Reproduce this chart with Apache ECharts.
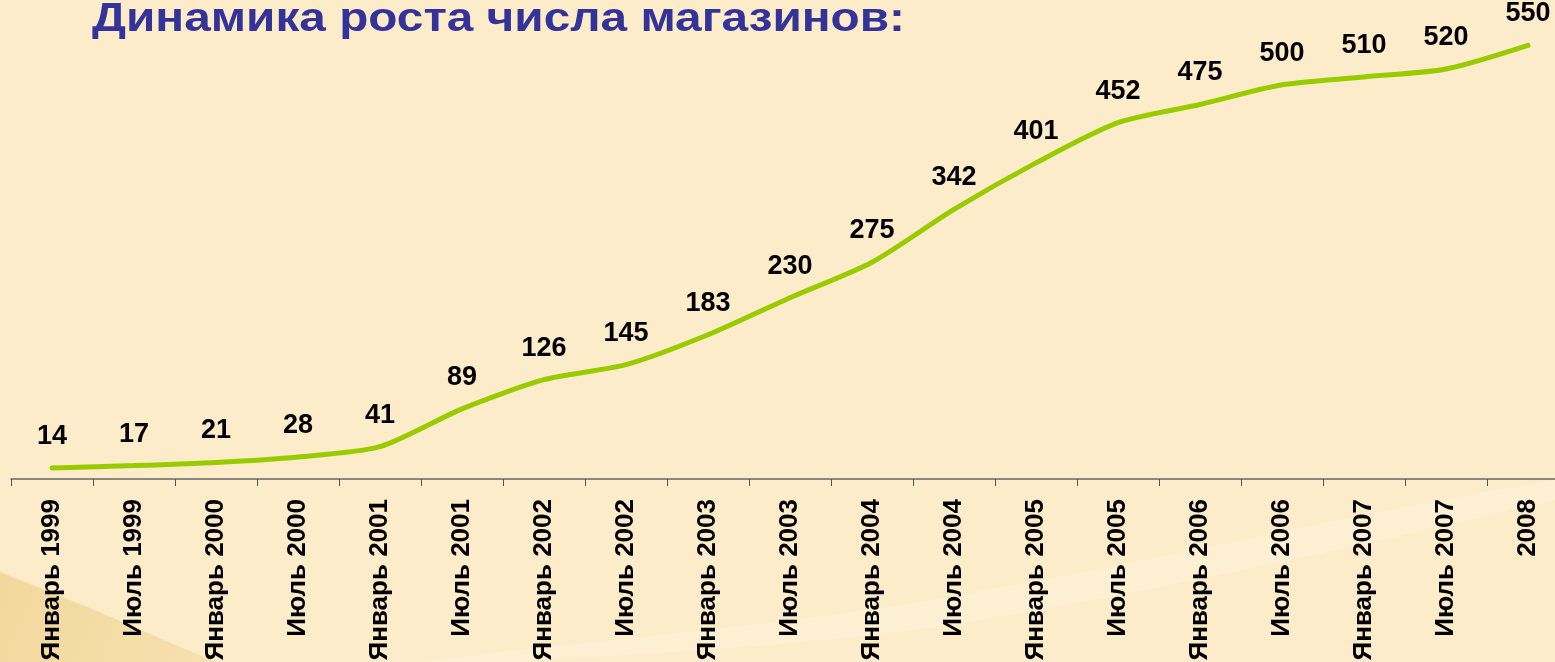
<!DOCTYPE html>
<html lang="ru">
<head>
    <meta charset="utf-8">
    <title>Динамика роста числа магазинов</title>
    <script src="https://cdn.jsdelivr.net/npm/echarts@6/dist/echarts.min.js"></script>
    <style>
        html, body { margin: 0; padding: 0; background: #fdecca; }
        #main { width: 1555px; height: 662px; }
    </style>
</head>
<body>
<div id="main"></div>
<script type="text/javascript">
    // данные
    const titleText = 'Динамика роста числа магазинов:';
    const periods = ['Январь 1999', 'Июль 1999', 'Январь 2000', 'Июль 2000', 'Январь 2001', 'Июль 2001',
        'Январь 2002', 'Июль 2002', 'Январь 2003', 'Июль 2003', 'Январь 2004', 'Июль 2004',
        'Январь 2005', 'Июль 2005', 'Январь 2006', 'Июль 2006', 'Январь 2007', 'Июль 2007', '2008'];
    const shops = [14, 17, 21, 28, 41, 89, 126, 145, 183, 230, 275, 342, 401, 452, 475, 500, 510, 520, 550];

    const font = '"Liberation Sans", Arial, sans-serif';

    // заголовок в оригинале растянут по ширине - подгоняем через scaleX
    const titleFont = 'bold 40px ' + font;
    const ctx = document.createElement('canvas').getContext('2d');
    ctx.font = titleFont;
    const titleScale = 813 / ctx.measureText(titleText).width;

    const myChart = echarts.init(document.getElementById('main'));
    const option = {
        backgroundColor: '#fdecca',
        animation: false,
        graphic: [
            {   // тёмный клин снизу слева
                type: 'polygon', z: -10, silent: true,
                shape: { points: [[0, 572], [90, 608], [215, 662], [0, 662]] },
                style: {
                    fill: new echarts.graphic.LinearGradient(0, 0, 1, 1, [
                        { offset: 0, color: '#f3d89c' },
                        { offset: 1, color: '#f6e0ae' }
                    ])
                }
            },
            {   // светлая полоса
                type: 'polygon', z: -10, silent: true,
                shape: { points: [[420, 662], [900, 605], [1555, 480], [1555, 500], [950, 625], [520, 662]], smooth: 0.3 },
                style: { fill: 'rgba(255,250,235,0.22)' }
            },
            {
                type: 'text', x: 92, y: 0, scaleX: titleScale,
                style: {
                    text: titleText, font: titleFont, fill: '#333399',
                    textAlign: 'left', textVerticalAlign: 'top'
                }
            }
        ],
        grid: { left: 11, top: 6, bottom: 183, width: 82 * periods.length, outerBoundsMode: 'none', containLabel: false },
        xAxis: {
            type: 'category',
            data: periods,
            boundaryGap: true,
            axisLine: { lineStyle: { color: '#666', width: 1.5 } },
            axisTick: { show: true, length: 7, lineStyle: { color: '#555' } },
            axisLabel: {
                rotate: 90, margin: 20, interval: 0,
                color: '#000', fontWeight: 'bold', fontSize: 26, fontFamily: font
            }
        },
        yAxis: {
            type: 'value', min: 0, max: 600,
            show: false
        },
        series: [{
            name: 'Магазины',
            type: 'line',
            data: shops,
            smooth: 0.25,
            symbol: 'circle',
            symbolSize: 4,
            showSymbol: true,
            itemStyle: { color: '#99cc00', borderWidth: 0 },
            lineStyle: { color: '#99cc00', width: 5, cap: 'round' },
            label: {
                show: true, position: 'top', distance: 16,
                color: '#000', fontWeight: 'bold', fontSize: 27, fontFamily: font
            },
            labelLayout: { hideOverlap: false }
        }]
    };
    myChart.setOption(option);
</script>
</body>
</html>
